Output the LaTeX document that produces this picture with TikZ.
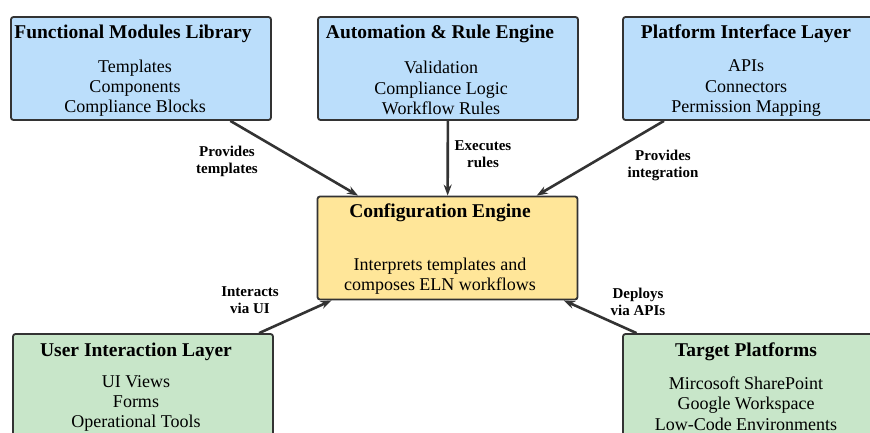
\documentclass[tikz,border=0pt]{standalone}
\usepackage{fontspec}
\setmainfont{Liberation Serif}
\usetikzlibrary{arrows.meta}
\definecolor{modblue}{HTML}{BBDEFB}
\definecolor{coreyellow}{HTML}{FFE699}
\definecolor{layergreen}{HTML}{C8E6C9}
\definecolor{edgegray}{HTML}{333333}
\tikzset{
  panel/.style={draw=edgegray, line width=1.8pt, rounded corners=2.5pt,
    minimum width=260pt, minimum height=103pt, inner sep=0pt},
  bluepanel/.style={panel, fill=modblue},
  yellowpanel/.style={panel, fill=coreyellow},
  greenpanel/.style={panel, fill=layergreen},
  paneltitle/.style={font=\fontsize{19.5}{22}\selectfont\bfseries, inner sep=0pt},
  panelbody/.style={font=\fontsize{18}{20.3}\selectfont, align=center, inner sep=0pt},
  flowlabel/.style={font=\fontsize{15}{17}\selectfont\bfseries, align=center, inner sep=0pt},
  flow/.style={draw=edgegray, line width=2.6pt, -{Stealth[length=11pt,width=8pt]}}
}
\begin{document}
\begin{tikzpicture}[x=1pt,y=-1pt]
\useasboundingbox (0,0) rectangle (870,432);
\clip (0,0) rectangle (870,432);

% boxes
\node[bluepanel]   (lib)  at (141,68.5)  {};
\node[bluepanel]   (rule) at (448,68.5)  {};
\node[bluepanel]   (plat) at (753,68.5)  {};
\node[yellowpanel] (cfg)  at (447.5,248) {};
\node[greenpanel]  (user) at (143,385.5) {};
\node[greenpanel]  (tgt)  at (753,385.5) {};

% titles
\node[paneltitle] (libT)  at (133,34)  {Functional Modules Library};
\node[paneltitle] (ruleT) at (440,34)  {Automation \& Rule Engine};
\node[paneltitle] (platT) at (746,34)  {Platform Interface Layer};
\node[paneltitle] (cfgT)  at (440,213) {Configuration Engine};
\node[paneltitle] (userT) at (136,352) {User Interaction Layer};
\node[paneltitle] (tgtT)  at (746,352) {Target Platforms};

% contents
\node[panelbody] (libB)  at (135,88)  {Templates\\Components\\Compliance Blocks};
\node[panelbody] (ruleB) at (441,88)  {Validation\\Compliance Logic\\Workflow Rules};
\node[panelbody] (platB) at (746,88)  {APIs\\Connectors\\Permission Mapping};
\node[panelbody] (cfgB)  at (440,276) {Interprets templates and\\composes ELN workflows};
\node[panelbody] (userB) at (136,403.5) {UI Views\\Forms\\Operational Tools};
\node[panelbody] (tgtB)  at (746,403.5) {Mircosoft SharePoint\\Google Workspace\\Low-Code Environments};

% connectors
\draw[flow] (lib)  -- (cfg);
\draw[flow] (rule) -- (cfg);
\draw[flow] (plat) -- (cfg);
\draw[flow] (user) -- (cfg);
\draw[flow] (tgt)  -- (cfg);

% connector labels
\node[flowlabel] (l1) at (227,161)   {Provides\\templates};
\node[flowlabel] (l2) at (483,154.5) {Executes\\rules};
\node[flowlabel] (l3) at (663,165.5) {Provides\\integration};
\node[flowlabel] (l4) at (250,300.5) {Interacts\\via UI};
\node[flowlabel] (l5) at (638,301.5) {Deploys\\via APIs};
\end{tikzpicture}
\end{document}
